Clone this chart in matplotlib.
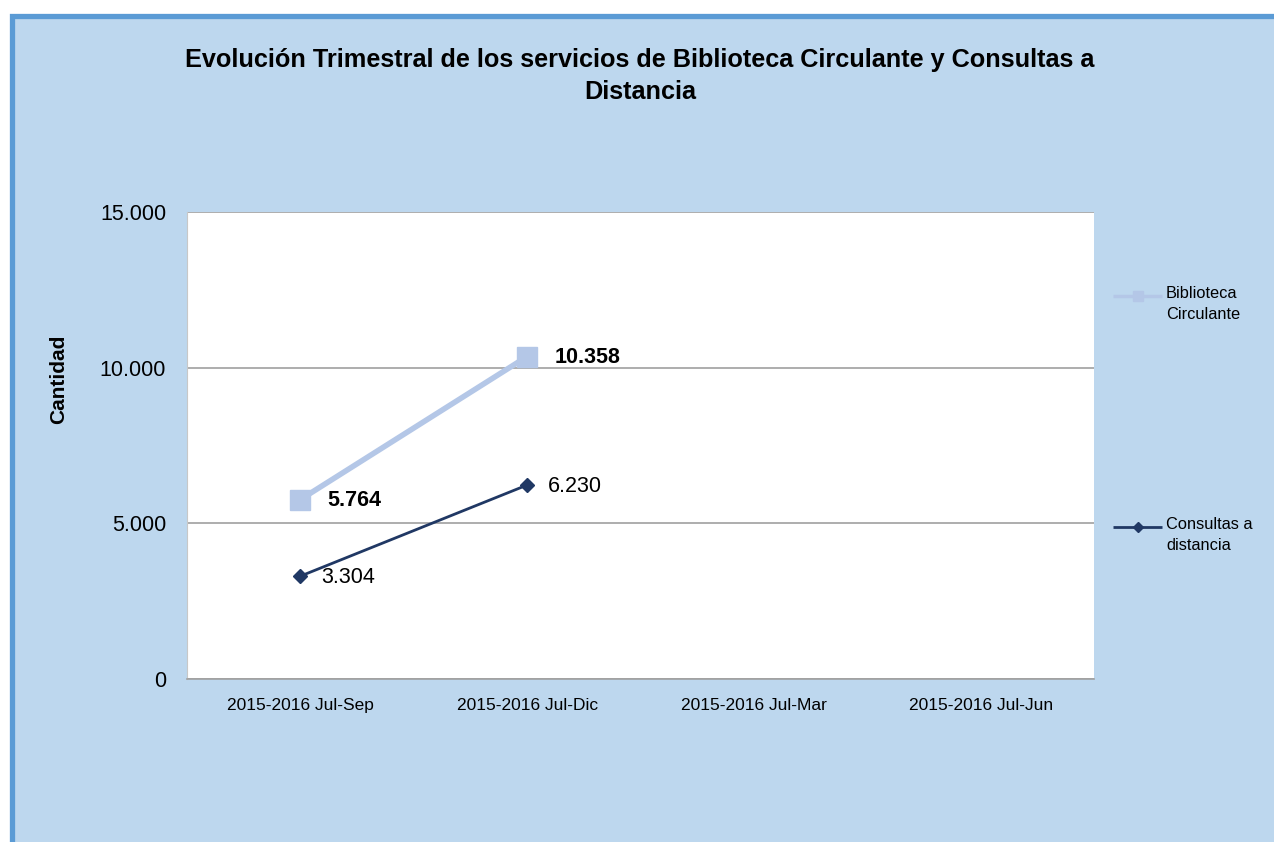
import matplotlib
matplotlib.use("Agg")
import matplotlib.pyplot as plt
import numpy as np
from matplotlib.patches import Rectangle
from matplotlib.lines import Line2D

plt.rcParams['font.family'] = ['Liberation Sans', 'DejaVu Sans']

categories = ["2015-2016 Jul-Sep", "2015-2016 Jul-Dic", "2015-2016 Jul-Mar", "2015-2016 Jul-Jun"]
biblioteca = [5764, 10358, np.nan, np.nan]
consultas = [3304, 6230, np.nan, np.nan]
yticks = [0, 5000, 10000, 15000]
ytick_labels = ["0", "5.000", "10.000", "15.000"]
title = "Evolución Trimestral de los servicios de Biblioteca Circulante y Consultas a\nDistancia"

W, H = 1274, 842
fig = plt.figure(figsize=(W / 100, H / 100), dpi=100)
fig.patch.set_facecolor("white")

# chart area background with blue border (left and top)
bg = Rectangle((11.5 / W, -0.2), 2.0, (H - 16) / H + 0.2, transform=fig.transFigure,
               facecolor="#BDD7EE", edgecolor="#5B9BD5", linewidth=3.8, zorder=-5)
fig.patches.append(bg)

ax = fig.add_axes([187 / W, 1 - 679 / H, (1094 - 187) / W, (679 - 212) / H])
ax.set_zorder(2)
ax.set_facecolor("white")
x = np.arange(len(categories))

c_bib = "#B4C7E7"
c_con = "#203864"
ax.plot(x, biblioteca, color=c_bib, lw=4, marker="s", markersize=15, zorder=3,
        solid_capstyle="butt")
ax.plot(x, consultas, color=c_con, lw=2, marker="D", markersize=7, zorder=4)

def fmt(v):
    return f"{int(v):,}".replace(",", ".")

for xi, v in zip(x, biblioteca):
    if not np.isnan(v):
        ax.annotate(fmt(v), (xi, v), xytext=(27, -1), textcoords="offset pixels",
                    ha="left", va="center", fontsize=15.5, fontweight="bold", color="black")
for xi, v in zip(x, consultas):
    if not np.isnan(v):
        ax.annotate(fmt(v), (xi, v), xytext=(21, -1), textcoords="offset pixels",
                    ha="left", va="center", fontsize=15.5, color="black")

ax.set_xlim(-0.5, len(categories) - 0.5)
ax.set_ylim(0, 15000)
ax.set_yticks(yticks)
ax.set_yticklabels(ytick_labels, fontsize=15.5)
ax.set_xticks(x)
ax.set_xticklabels(categories, fontsize=12.5)
ax.tick_params(axis="x", length=0, pad=14)
ax.tick_params(axis="y", length=0, pad=15)
ax.yaxis.grid(True, color="#A0A0A0", lw=1.2)
ax.set_axisbelow(True)
for s in ["top", "right"]:
    ax.spines[s].set_visible(False)
ax.spines["left"].set_color("#C8C8C8")
ax.spines["bottom"].set_color("#A0A0A0")
ax.spines["bottom"].set_linewidth(1.2)

fig.text(59 / W, 1 - 379 / H, "Cantidad", rotation=90, ha="center", va="center",
         fontsize=15, fontweight="bold")

fig.text(640 / W, 1 - 76 / H, title, ha="center", va="center", fontsize=18.2,
         fontweight="bold", linespacing=1.45)

# legend entries
def legend_entry(y_px, color, lw, marker, ms, label):
    fig.add_artist(Line2D([1113 / W, 1162 / W], [1 - y_px / H] * 2, transform=fig.transFigure,
                          color=color, lw=lw, solid_capstyle="butt"))
    fig.add_artist(Line2D([1137.5 / W], [1 - y_px / H], transform=fig.transFigure,
                          color=color, marker=marker, markersize=ms, lw=0))
    fig.text(1166 / W, 1 - (y_px + 8) / H, label, ha="left", va="center", fontsize=11.8,
             linespacing=1.45)

legend_entry(296, c_bib, 2.5, "s", 7, "Biblioteca\nCirculante")
legend_entry(527, c_con, 2, "D", 5, "Consultas a\ndistancia")

fig.savefig("out.png", dpi=100)
